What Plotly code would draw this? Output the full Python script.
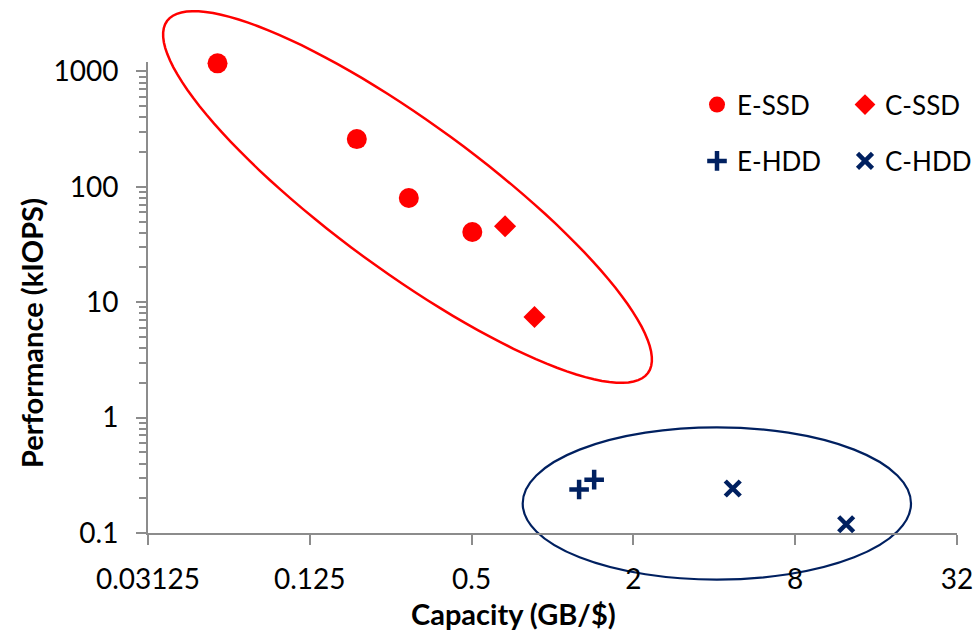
import math
import plotly.graph_objects as go

# ---- data ----
essd_cap = [0.0567, 0.187, 0.292, 0.503]
essd_perf = [1175, 259, 80, 40.6]
cssd_cap = [0.666, 0.857]
cssd_perf = [45.5, 7.45]
ehdd_cap = [1.256, 1.429]
ehdd_perf = [0.238, 0.290]
chdd_cap = [4.685, 12.38]
chdd_perf = [0.243, 0.119]

x_tickvals = [0.03125, 0.125, 0.5, 2, 8, 32]
x_ticktext = ["0.03125", "0.125", "0.5", "2", "8", "32"]
y_tickvals = [0.1, 1, 10, 100, 1000]
y_ticktext = ["0.1", "1", "10", "100", "1000"]

RED = "#FF0000"
NAVY = "#002060"
AXIS = "#8C8C8C"
FONT = "Lato"
FS = 28
LFS = 26

# layout geometry in pixels
W, H = 975, 631
ML, MR, MT, MB = 148, 18, 62, 98
PW = W - ML - MR
PH = H - MT - MB
YTOP = -1 + (PH / 115.4)


def px2paper(x, y):
    return (x - ML) / PW, (H - MB - y) / PH


fig = go.Figure()
fig.add_trace(go.Scatter(x=essd_cap, y=essd_perf, mode="markers", name="E-SSD", cliponaxis=False,
                         marker=dict(symbol="circle", size=20, color=RED), legend="legend"))
fig.add_trace(go.Scatter(x=cssd_cap, y=cssd_perf, mode="markers", name="C-SSD", cliponaxis=False,
                         marker=dict(symbol="diamond", size=17, color=RED), legend="legend2"))
fig.add_trace(go.Scatter(x=ehdd_cap, y=ehdd_perf, mode="markers", name="E-HDD", cliponaxis=False,
                         marker=dict(symbol="cross-thin", size=14, color=NAVY,
                                     line=dict(width=4.5, color=NAVY)), legend="legend3"))
fig.add_trace(go.Scatter(x=chdd_cap, y=chdd_perf, mode="markers", name="C-HDD", cliponaxis=False,
                         marker=dict(symbol="x-thin", size=15, color=NAVY,
                                     line=dict(width=4.5, color=NAVY)), legend="legend4"))

# red rotated ellipse (decoration), built in pixel space then converted to paper
cx, cy, a, b, th = 407.5, 197.0, 298.0, 74.0, math.radians(36.2)
pts = []
for i in range(121):
    t = 2 * math.pi * i / 120
    ex = cx + a * math.cos(t) * math.cos(th) - b * math.sin(t) * math.sin(th)
    ey = cy + a * math.cos(t) * math.sin(th) + b * math.sin(t) * math.cos(th)
    pts.append(px2paper(ex, ey))
path = "M " + " L ".join(f"{p[0]:.5f},{p[1]:.5f}" for p in pts) + " Z"
fig.add_shape(type="path", path=path, xref="paper", yref="paper",
              line=dict(color=RED, width=2.5), layer="below")

# blue ellipse
bx0, by0 = px2paper(522.7, 579.6)
bx1, by1 = px2paper(911.0, 427.3)
fig.add_shape(type="circle", xref="paper", yref="paper", x0=bx0, x1=bx1, y0=by0, y1=by1,
              line=dict(color=NAVY, width=2.2), layer="below")

# axis titles
tx, ty = px2paper(513, 613)
fig.add_annotation(text="<b>Capacity (GB/$)</b>", xref="paper", yref="paper", x=tx, y=ty,
                   showarrow=False, xanchor="center", yanchor="middle",
                   font=dict(family=FONT, size=29, color="black"))
tx, ty = px2paper(31, 333)
fig.add_annotation(text="<b>Performance (kIOPS)</b>", xref="paper", yref="paper", x=tx, y=ty,
                   showarrow=False, xanchor="center", yanchor="middle", textangle=-90,
                   font=dict(family=FONT, size=29, color="black"))

# minor ticks on log y axis
y_minor = [m * 10 ** e for e in range(-1, 3) for m in range(2, 10)]

legend_common = dict(orientation="h", bgcolor="rgba(0,0,0,0)", borderwidth=0,
                     font=dict(family=FONT, size=LFS, color="black"),
                     xanchor="left", yanchor="middle", itemclick=False)
l1 = px2paper(697, 104.7)
l2 = px2paper(845, 104.7)
l3 = px2paper(697, 161)
l4 = px2paper(845, 161)

fig.update_layout(
    width=W, height=H,
    margin=dict(l=ML, r=MR, t=MT, b=MB, autoexpand=False),
    paper_bgcolor="white", plot_bgcolor="white",
    font=dict(family=FONT, size=FS, color="black"),
    showlegend=True,
    legend=dict(x=l1[0], y=l1[1], **legend_common),
    legend2=dict(x=l2[0], y=l2[1], **legend_common),
    legend3=dict(x=l3[0], y=l3[1], **legend_common),
    legend4=dict(x=l4[0], y=l4[1], **legend_common),
    xaxis=dict(type="log", range=[math.log10(0.03125), math.log10(32)],
               tickmode="array", tickvals=x_tickvals, ticktext=x_ticktext,
               ticks="outside", ticklen=10, tickwidth=2, tickcolor=AXIS,
               showline=True, linecolor=AXIS, linewidth=2, showgrid=False, zeroline=False,
               tickfont=dict(family=FONT, size=FS, color="black"), ticklabelstandoff=10),
    yaxis=dict(type="log", range=[-1, YTOP],
               tickmode="array", tickvals=y_tickvals, ticktext=y_ticktext,
               ticks="outside", ticklen=10, tickwidth=2, tickcolor=AXIS,
               minor=dict(tickmode="array", tickvals=y_minor, ticks="outside", ticklen=7,
                          tickwidth=2, tickcolor=AXIS, showgrid=False),
               showline=True, linecolor=AXIS, linewidth=2, showgrid=False, zeroline=False,
               tickfont=dict(family=FONT, size=FS, color="black"), ticklabelstandoff=12),
)

fig.write_html("out.html")
